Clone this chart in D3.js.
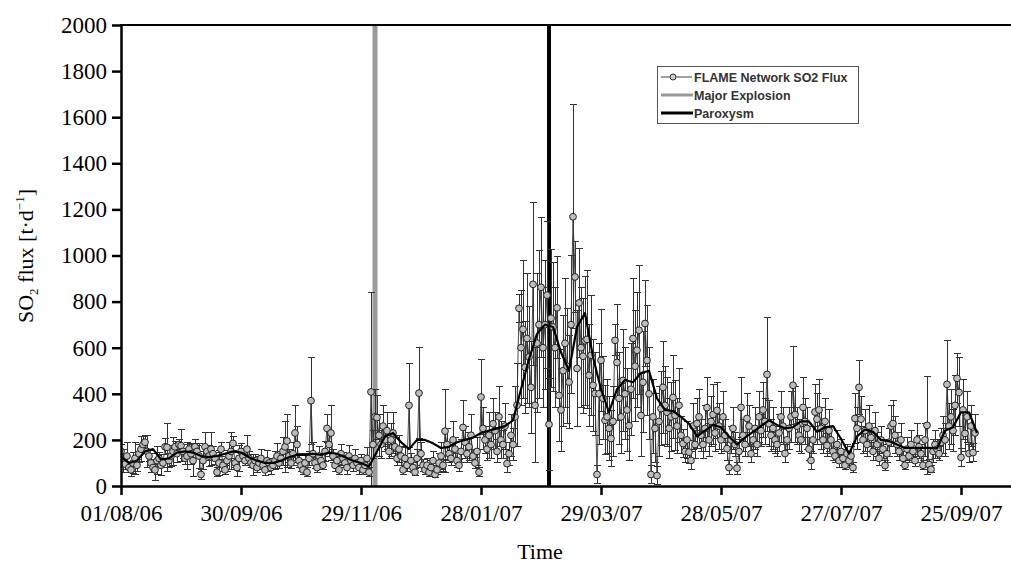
<!DOCTYPE html>
<html>
<head>
<meta charset="utf-8">
<script src="https://cdn.jsdelivr.net/npm/d3@7"></script>
<style>
html,body{margin:0;padding:0;background:#fff;}
svg{display:block;}
</style>
</head>
<body>
<svg id="chart" width="1011" height="565"></svg>
<script>
// ---------------- DATA ----------------
const startDate = "2006-08-01";           // first daily measurement
const xTickLabels = ["01/08/06","30/09/06","29/11/06","28/01/07","29/03/07","28/05/07","27/07/07","25/09/07"];
const yTickValues = [0,200,400,600,800,1000,1200,1400,1600,1800,2000];

// daily SO2 flux (t/d), one value per day from startDate
const flux = [
150,110,95,130,80,70,100,120,90,140,
160,180,190,150,130,100,80,70,110,120,
90,100,170,168,110,130,150,170,140,180,
175,150,120,130,160,140,110,170,150,130,
50,110,170,150,130,160,140,120,60,100,
160,90,70,110,130,150,185,100,80,120,
150,130,110,160,120,100,90,110,80,100,
120,90,70,110,100,80,90,110,130,100,
120,150,170,195,130,100,140,230,180,110,
90,70,100,60,120,370,140,100,80,130,
110,90,150,250,180,230,130,90,110,70,
140,120,100,80,130,110,90,120,100,80,
110,70,90,120,60,408,180,300,297,220,
180,260,200,240,150,200,230,170,120,160,
130,70,120,90,350,110,80,60,120,403,
140,90,70,90,60,80,110,50,70,100,
130,90,238,180,140,120,200,160,110,90,
150,254,190,140,170,220,130,100,150,60,
386,250,200,160,220,180,270,240,150,300,
200,180,260,97,140,220,180,300,350,771,
600,680,515,640,560,428,875,350,620,700,
862,600,700,828,267,728,690,600,773,393,
330,500,619,520,451,700,1168,907,510,794,
600,563,630,636,480,567,437,401,50,400,
545,380,285,300,250,206,280,632,536,380,
300,458,400,330,262,420,640,520,589,676,
306,450,705,545,400,50,300,250,45,280,
336,428,350,320,250,300,384,306,260,350,
220,184,150,200,147,111,260,180,271,300,
220,180,250,340,200,280,310,230,328,260,
200,300,220,162,80,200,250,180,77,150,
341,220,180,293,260,140,200,250,180,300,
240,330,280,484,270,220,250,200,180,230,
300,260,141,200,250,300,437,310,260,220,
200,341,280,250,160,111,200,321,290,330,
250,200,280,176,240,200,150,130,180,110,
150,120,90,140,110,130,80,293,250,428,
290,200,240,180,260,210,150,240,180,120,
200,160,89,140,190,260,271,220,180,150,
200,120,90,160,130,180,150,110,200,170,
140,90,200,263,93,72,150,180,160,140,
189,220,200,441,260,300,240,350,467,406,
124,330,228,300,141,260,145,230
];

// half-length of the error bar for each daily value (t/d)
const fluxErr = [
30,50,25,60,20,30,45,70,25,40,
55,35,30,70,25,40,20,45,60,25,
45,20,35,104,30,45,60,25,40,20,
70,30,25,60,20,45,70,30,25,55,
20,40,60,25,45,70,30,25,20,55,
30,25,20,45,60,80,30,20,40,55,
35,25,20,60,30,20,45,25,20,30,
40,20,25,45,20,30,20,40,55,25,
30,60,110,115,30,25,50,120,80,30,
25,20,40,20,30,188,50,25,20,40,
30,20,45,60,50,120,30,25,20,20,
40,25,20,30,45,20,25,40,20,30,
25,20,30,45,20,432,60,120,96,90,
60,90,50,80,30,70,90,40,30,60,
40,20,45,25,182,30,20,15,40,199,
50,25,20,30,20,30,40,15,20,40,
60,25,181,70,40,30,80,50,30,25,
50,116,70,40,60,90,30,25,60,20,
164,90,60,50,100,60,110,80,50,130,
80,60,100,40,50,90,70,130,180,61,
250,300,200,280,220,200,354,250,300,320,
304,260,280,320,200,300,280,260,221,200,
180,240,280,250,200,300,485,155,250,238,
260,250,280,300,220,260,200,180,40,220,
220,180,150,160,140,120,150,68,250,200,
160,220,200,180,150,200,260,240,250,280,
180,220,185,240,200,40,160,150,40,150,
160,200,170,150,130,150,180,150,120,160,
80,60,50,80,50,40,100,60,110,120,
70,60,100,130,70,110,130,80,120,100,
60,110,70,50,30,60,90,50,25,50,
130,70,50,110,90,40,60,90,50,110,
70,120,100,249,100,70,90,60,50,80,
110,80,40,60,90,110,170,120,80,70,
60,130,100,90,50,40,60,120,110,130,
90,60,100,50,90,60,40,30,60,30,
50,40,20,40,30,40,20,110,90,117,
100,60,90,50,90,60,40,80,50,30,
60,40,20,40,60,90,100,80,50,40,
70,30,20,50,30,60,40,25,70,50,
40,20,70,213,20,15,50,60,40,30,
60,80,70,191,100,120,90,130,110,150,
40,130,80,110,40,90,40,80
];

// smoothed (running-mean) curve, one value every avgStepDays from startDate
const avgStepDays = 4;
const avgValues = [
125,100,110,150,160,115,120,145,150,145,
130,125,130,140,150,145,125,110,100,100,
110,125,135,135,140,135,145,140,125,110,
100,85,150,215,230,190,160,200,200,185,
165,170,190,200,210,230,240,250,260,285,
420,550,660,700,690,580,500,690,750,560,
420,320,420,460,450,490,500,380,330,325,
300,270,215,240,265,255,215,180,210,235,
260,285,265,250,255,280,280,235,255,260,
205,140,215,245,235,200,195,180,165,165,
165,165,163,240,255,320,320,230
];

const eventNames = ["Major Explosion","Paroxysm"];
const eventDates = ["2006-12-06","2007-03-03"];
const seriesName = "FLAME Network SO2 Flux";

// ---------------- CHART ----------------
const svg = d3.select("#chart");
const W = 1011, H = 565;
const M = {left:121, right:0, top:25, bottom:79};
const plotBottom = H - M.bottom; // 486

const DAY = 86400000;
const t0 = d3.utcParse("%Y-%m-%d")(startDate);
const parseTick = d3.utcParse("%d/%m/%y");
const dayDate = d => new Date(t0.getTime() + d*DAY);

const x = d3.scaleUtc()
  .domain([t0, dayDate(445)])
  .range([M.left, W - M.right]);
const y = d3.scaleLinear()
  .domain([0, 2000])
  .range([plotBottom, M.top]);

svg.append("defs").append("clipPath").attr("id","clip")
  .append("rect").attr("x", M.left).attr("y", M.top - 1)
  .attr("width", W - M.left).attr("height", plotBottom - M.top + 1);

const pts = flux.map((v,i)=>({date: dayDate(i), v, e: fluxErr[i]}));
const avgPts = avgValues.map((v,k)=>({date: dayDate(k*avgStepDays), v}));

const plot = svg.append("g").attr("clip-path","url(#clip)");

// event vertical lines
const eventStyle = [{c:"#9a9a9a", w:5},{c:"#000", w:4}];
eventDates.forEach((d,i)=>{
  const xd = x(d3.utcParse("%Y-%m-%d")(d));
  plot.append("line")
    .attr("x1", xd).attr("x2", xd)
    .attr("y1", y(2000)).attr("y2", y(0))
    .attr("stroke", eventStyle[i].c).attr("stroke-width", eventStyle[i].w);
});

// error bars
const eb = plot.append("g").attr("stroke","#333").attr("stroke-width",1)
  .attr("shape-rendering","crispEdges");
pts.forEach(p=>{
  const xp = Math.round(x(p.date)) + 0.5;
  const yTop = y(p.v + p.e), yBot = y(p.v - p.e);
  eb.append("line").attr("x1",xp).attr("x2",xp).attr("y1",yTop).attr("y2",yBot);
  eb.append("line").attr("x1",xp-3.5).attr("x2",xp+3.5).attr("y1",yTop).attr("y2",yTop);
  eb.append("line").attr("x1",xp-3.5).attr("x2",xp+3.5).attr("y1",yBot).attr("y2",yBot);
});

// connecting line
plot.append("path")
  .datum(pts)
  .attr("fill","none").attr("stroke","#3a3a3a").attr("stroke-width",0.9)
  .attr("d", d3.line().x(d=>x(d.date)).y(d=>y(d.v)));

// circles
plot.append("g").selectAll("circle").data(pts).join("circle")
  .attr("cx", d=>x(d.date)).attr("cy", d=>y(d.v)).attr("r", 3.4)
  .attr("fill","#bdbdbd").attr("stroke","#222").attr("stroke-width",1);

// smoothed line
plot.append("path")
  .datum(avgPts)
  .attr("fill","none").attr("stroke","#000").attr("stroke-width",2.2)
  .attr("stroke-linejoin","round")
  .attr("d", d3.line().x(d=>x(d.date)).y(d=>y(d.v)));

// axes
const serif = "'Liberation Serif','Times New Roman',serif";
const yAxis = svg.append("g").attr("transform",`translate(${M.left},0)`)
  .call(d3.axisLeft(y).tickValues(yTickValues).tickFormat(d3.format("d"))
        .tickSize(9).tickSizeOuter(0).tickPadding(5));
const xAxis = svg.append("g").attr("transform",`translate(0,${plotBottom})`)
  .call(d3.axisBottom(x).tickValues(xTickLabels.map(parseTick))
        .tickFormat(d3.utcFormat("%d/%m/%y")).tickSize(9).tickSizeOuter(0).tickPadding(10));
[yAxis, xAxis].forEach(g=>{
  g.select(".domain").attr("stroke","#000").attr("stroke-width",2.5);
  g.selectAll(".tick line").attr("stroke","#000").attr("stroke-width",2.5);
  g.selectAll(".tick text").attr("font-family",serif).attr("font-size",23).attr("fill","#000");
});
// top frame line
svg.append("line").attr("x1",M.left-1).attr("x2",W).attr("y1",y(2000)).attr("y2",y(2000))
  .attr("stroke","#000").attr("stroke-width",2);

// axis titles
svg.append("text").attr("x", 540).attr("y", 559).attr("text-anchor","middle")
  .attr("font-family",serif).attr("font-size",22).text("Time");
const yt = svg.append("text").attr("transform","translate(33,256) rotate(-90)")
  .attr("text-anchor","middle").attr("font-family",serif).attr("font-size",22);
yt.append("tspan").text("SO");
yt.append("tspan").attr("font-size",13).attr("dy",5).text("2");
yt.append("tspan").attr("dy",-5).text(" flux [t·d");
yt.append("tspan").attr("font-size",13).attr("dy",-9).text("−1");
yt.append("tspan").attr("dy",9).text("]");

// legend
const lg = svg.append("g");
lg.append("rect").attr("x",657.5).attr("y",66.5).attr("width",201).attr("height",57)
  .attr("fill","#fff").attr("stroke","#555").attr("stroke-width",1);
const sans = "'Liberation Sans',Arial,sans-serif";
const rows = [
  {label: seriesName, y: 77},
  {label: eventNames[0], y: 95},
  {label: eventNames[1], y: 113}
];
lg.append("line").attr("x1",661).attr("x2",692).attr("y1",rows[0].y).attr("y2",rows[0].y)
  .attr("stroke","#444").attr("stroke-width",1);
lg.append("circle").attr("cx",673).attr("cy",rows[0].y).attr("r",3)
  .attr("fill","#ccc").attr("stroke","#333").attr("stroke-width",1);
lg.append("line").attr("x1",661).attr("x2",693).attr("y1",rows[1].y).attr("y2",rows[1].y)
  .attr("stroke","#999").attr("stroke-width",3);
lg.append("line").attr("x1",661).attr("x2",693).attr("y1",rows[2].y).attr("y2",rows[2].y)
  .attr("stroke","#000").attr("stroke-width",3);
rows.forEach(r=>{
  lg.append("text").attr("x",694).attr("y",r.y+4.5)
    .attr("font-family",sans).attr("font-weight","bold").attr("font-size",12.5)
    .attr("fill","#333").text(r.label);
});
</script>
</body>
</html>
